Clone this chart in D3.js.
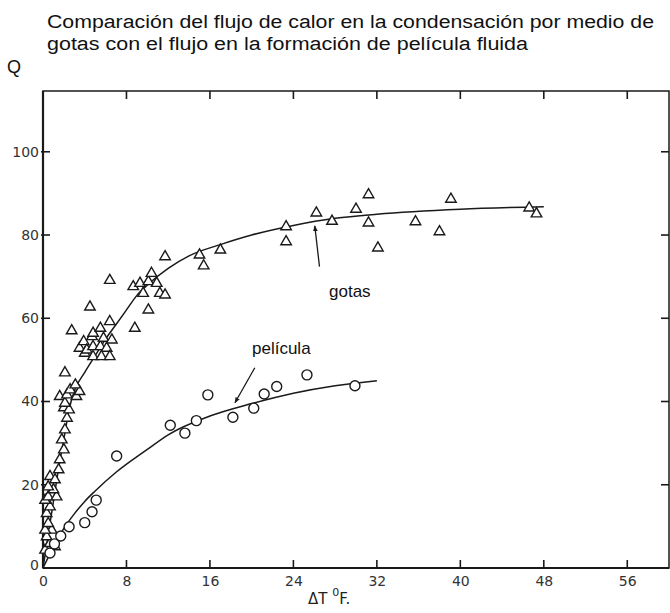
<!DOCTYPE html>
<html><head><meta charset="utf-8">
<script src="https://cdn.jsdelivr.net/npm/d3@7"></script>
<style>body{margin:0;background:#fff}svg{display:block}</style>
</head><body>
<svg id="c" width="670" height="613"></svg>
<script>
const xTicks = [0, 8, 16, 24, 32, 40, 48, 56];
const yTicks = [0, 20, 40, 60, 80, 100];
// gotas (triangles)  [ΔT, Q]
const gotasX = [0.2,0.67,1.15,0.35,0.83,0.2,0.5,0.35,0.67,0.2,0.5,1.3,1.0,0.5,0.67,1.15,1.5,1.6,2.0,1.8,2.1,2.3,2.0,2.5,1.6,2.1,2.3,2.6,3.2,3.5,3.1,2.1,
  2.75,3.5,3.9,4.0,4.2,4.8,4.7,4.8,4.8,5.5,5.5,5.6,5.8,6.1,6.4,6.6,6.4,4.5,6.4,8.8,10.1,
  8.65,9.3,9.6,10.1,10.4,10.9,11.2,11.7,11.7,
  15.0,15.4,17.0,23.3,23.3,26.2,27.7,30.0,31.2,31.2,32.1,35.7,38.0,39.1,46.6,47.3];
const gotasQ = [4.3,5.9,5.1,7.5,9.1,9.1,10.7,13.1,14.7,16.3,17.1,17.1,18.8,19.5,22,21.2,23.6,26,28.4,30.8,33.2,36,38.5,38,41.2,39.6,41.6,42.8,41.2,42.4,44,46.9,
  57.0,52.8,54.4,51.6,52.4,53.2,55.6,56.4,50.8,53.2,57.6,50.8,55.2,52.8,50.8,54.8,59.2,62.7,69.1,57.6,62.0,
  67.6,68.4,66.0,68.8,70.8,68.4,66.0,65.6,74.8,
  75.2,72.6,76.4,82.0,78.4,85.3,83.3,86.2,89.7,82.9,76.9,83.2,80.8,88.6,86.5,85.1];
// película (circles)
const pelX = [0.67,1.1,1.7,2.5,4.0,4.7,5.1,7.06,12.2,13.6,14.7,15.8,18.2,20.2,21.2,22.4,25.3,29.9];
const pelQ = [3.6,5.8,7.7,9.9,10.9,13.5,16.3,26.9,34.3,32.4,35.4,41.6,36.2,38.4,41.8,43.6,46.4,43.8];
// fitted curves
const curveGX = [0,0.5,1,1.5,2,2.5,3,4,5,6,7,8,9,10,12,14,17,20,24,28,32,40,48];
const curveGQ = [0,8,16,24,31,38,42.5,47,51,55,58.5,62,65.5,68,72,75,77.7,80,82.3,84,85,86.2,86.8];
const curvePX = [0,1,2,3,4,5,7,10,12,16,20,24,28,32];
const curvePQ = [0,5,9.5,13,16,18.5,23,28.5,32,36.5,39.5,42,43.8,45];

const svg = d3.select('#c');
const x = d3.scaleLinear().domain([0, 60]).range([43, 669]);
const y = d3.scaleLinear().domain([0, 114.6]).range([568, 91]);
const ink = '#1a1a1a';

// titles
const t = svg.append('g').attr('font-family','Liberation Sans, Arial, sans-serif').attr('font-size',18).attr('fill','#111');
t.append('text').attr('x',47).attr('y',28).attr('textLength',607).attr('lengthAdjust','spacingAndGlyphs')
  .text('Comparación del flujo de calor en la condensación por medio de');
t.append('text').attr('x',47).attr('y',50).attr('textLength',481).attr('lengthAdjust','spacingAndGlyphs')
  .text('gotas con el flujo en la formación de película fluida');
t.append('text').attr('x',7).attr('y',73).text('Q');

// frame
svg.append('rect').attr('x',x(0)).attr('y',y(114.6)).attr('width',x(60)-x(0)).attr('height',y(0)-y(114.6))
  .attr('fill','none').attr('stroke',ink).attr('stroke-width',1.5);
svg.append('line').attr('x1',x(0)).attr('x2',x(0)).attr('y1',y(114.6)).attr('y2',y(0)).attr('stroke',ink).attr('stroke-width',2.2);
svg.append('line').attr('x1',x(0)).attr('x2',x(60)).attr('y1',y(0)).attr('y2',y(0)).attr('stroke',ink).attr('stroke-width',2);

// axes
const xb = d3.axisBottom(x).tickValues(xTicks).tickSize(0).tickPadding(8);
const gx = svg.append('g').attr('transform',`translate(0,${y(0)})`).call(xb);
gx.select('.domain').remove();
gx.selectAll('text').attr('font-family','DejaVu Sans, sans-serif').attr('font-size',14).attr('fill','#333');
const yl = d3.axisLeft(y).tickValues(yTicks).tickSize(0).tickPadding(4);
const gy = svg.append('g').attr('transform',`translate(${x(0)},0)`).call(yl);
gy.select('.domain').remove();
gy.selectAll('text').attr('font-family','DejaVu Sans, sans-serif').attr('font-size',14).attr('fill','#333');
gy.selectAll('.tick').filter(d=>d===0).select('text').attr('dy','0.1em');
// inward tick marks
const tk = svg.append('g').attr('stroke',ink).attr('stroke-width',1.6);
xTicks.filter(d=>d>0).forEach(d=>{
  tk.append('line').attr('x1',x(d)).attr('x2',x(d)).attr('y1',y(0)).attr('y2',y(0)-8);
  tk.append('line').attr('x1',x(d)).attr('x2',x(d)).attr('y1',y(114.6)).attr('y2',y(114.6)+8);
});
yTicks.filter(d=>d>0).forEach(d=>{
  tk.append('line').attr('x1',x(0)-2).attr('x2',x(0)+7).attr('y1',y(d)).attr('y2',y(d));
  tk.append('line').attr('x1',x(60)).attr('x2',x(60)-8).attr('y1',y(d)).attr('y2',y(d));
});

// x axis title
const xt = svg.append('text').attr('x',308).attr('y',604).attr('font-family','DejaVu Sans, sans-serif').attr('font-size',15).attr('fill','#222');
xt.append('tspan').text('ΔT ');
xt.append('tspan').attr('font-size',11).attr('dy',-8).text('0');
xt.append('tspan').attr('dy',8).text('F.');

// curves
const line = d3.line().x(d=>x(d[0])).y(d=>y(d[1])).curve(d3.curveMonotoneX);
svg.append('path').datum(d3.zip(curveGX,curveGQ)).attr('d',line).attr('fill','none').attr('stroke',ink).attr('stroke-width',1.5);
svg.append('path').datum(d3.zip(curvePX,curvePQ)).attr('d',line).attr('fill','none').attr('stroke',ink).attr('stroke-width',1.5);

// markers
const tri = d3.symbol(d3.symbolTriangle, 48);
svg.append('g').selectAll('path').data(d3.zip(gotasX,gotasQ)).join('path')
  .attr('transform',d=>`translate(${x(d[0])},${y(d[1])})`).attr('d',tri)
  .attr('fill','#fff').attr('stroke',ink).attr('stroke-width',1.4);
svg.append('g').selectAll('circle').data(d3.zip(pelX,pelQ)).join('circle')
  .attr('cx',d=>x(d[0])).attr('cy',d=>y(d[1])).attr('r',5)
  .attr('fill','#fff').attr('stroke',ink).attr('stroke-width',1.4);

// annotations
const defs = svg.append('defs');
defs.append('marker').attr('id','ah').attr('viewBox','0 0 10 10').attr('refX',9).attr('refY',5)
  .attr('markerWidth',6).attr('markerHeight',8).attr('orient','auto').attr('markerUnits','userSpaceOnUse')
  .append('path').attr('d','M0,1 L10,5 L0,9 Z').attr('fill',ink);
svg.append('line').attr('x1',x(26.5)).attr('y1',y(72.4)).attr('x2',x(26.05)).attr('y2',y(82.2))
  .attr('stroke',ink).attr('stroke-width',1.3).attr('marker-end','url(#ah)');
svg.append('line').attr('x1',x(20.3)).attr('y1',y(48.1)).attr('x2',x(18.4)).attr('y2',y(39.7))
  .attr('stroke',ink).attr('stroke-width',1.3).attr('marker-end','url(#ah)');
const lab = svg.append('g').attr('font-family','Liberation Sans, Arial, sans-serif').attr('font-size',17).attr('fill','#111');
lab.append('text').attr('x',329).attr('y',297).text('gotas');
lab.append('text').attr('x',252).attr('y',354).text('película');
</script>
</body></html>
